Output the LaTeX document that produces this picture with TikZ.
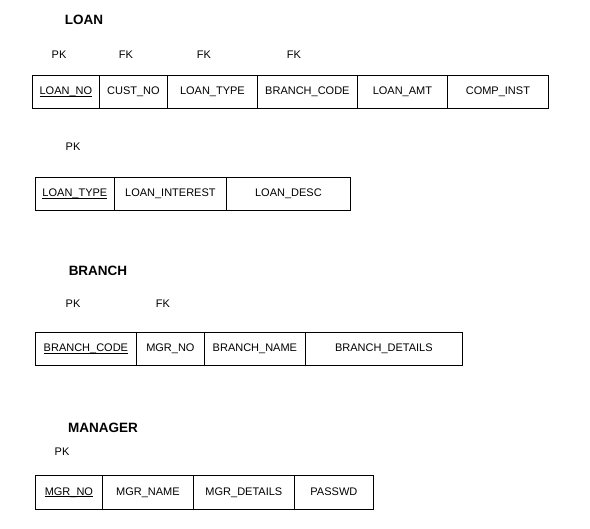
\documentclass[tikz,border=0pt]{standalone}
\usepackage{fontspec}
\setmainfont{Liberation Sans}
\newcommand\pkey[1]{\underline{\smash{#1}}}
\begin{document}
\begin{tikzpicture}[x=1pt,y=-1pt,
  cell/.style={draw, line width=0.8pt, inner sep=0pt, anchor=north west, text height=8pt, text depth=2.5pt, font=\fontsize{11}{13}\selectfont},
  key/.style={inner sep=0pt, font=\fontsize{11}{13}\selectfont},
  title/.style={inner sep=0pt, font=\fontsize{13.5}{15}\selectfont\bfseries}]
\useasboundingbox[fill=white] (0,0) rectangle (590,529);
% LOAN
\node[title] (tloan) at (84,20) {LOAN};
\node[key] (k1a) at (59,55) {PK};
\node[key] (k1b) at (126,55) {FK};
\node[key] (k1c) at (204,55) {FK};
\node[key] (k1d) at (294,55) {FK};
\node[cell, minimum width=67pt, minimum height=33pt] (a1) at (32,75) {\pkey{LOAN\_NO}};
\node[cell, minimum width=68pt, minimum height=33pt] (a2) at (99,75) {CUST\_NO};
\node[cell, minimum width=90pt, minimum height=33pt] (a3) at (167,75) {LOAN\_TYPE};
\node[cell, minimum width=100pt, minimum height=33pt] (a4) at (257,75) {BRANCH\_CODE};
\node[cell, minimum width=90pt, minimum height=33pt] (a5) at (357,75) {LOAN\_AMT};
\node[cell, minimum width=101pt, minimum height=33pt] (a6) at (447,75) {COMP\_INST};
% LOAN TYPE
\node[key] (k2a) at (73,147) {PK};
\node[cell, minimum width=79pt, minimum height=33pt] (b1) at (35,177) {\pkey{LOAN\_TYPE}};
\node[cell, minimum width=112pt, minimum height=33pt] (b2) at (114,177) {LOAN\_INTEREST};
\node[cell, minimum width=124pt, minimum height=33pt] (b3) at (226,177) {LOAN\_DESC};
% BRANCH
\node[title] (tbranch) at (98,271) {BRANCH};
\node[key] (k3a) at (73,304) {PK};
\node[key] (k3b) at (163,304) {FK};
\node[cell, minimum width=101pt, minimum height=33pt] (c1) at (35,332) {\pkey{BRANCH\_CODE}};
\node[cell, minimum width=68pt, minimum height=33pt] (c2) at (136,332) {MGR\_NO};
\node[cell, minimum width=101pt, minimum height=33pt] (c3) at (204,332) {BRANCH\_NAME};
\node[cell, minimum width=157pt, minimum height=33pt] (c4) at (305,332) {BRANCH\_DETAILS};
% MANAGER
\node[title] (tmgr) at (103,428) {MANAGER};
\node[key] (k4a) at (62,452) {PK};
\node[cell, minimum width=67pt, minimum height=34pt] (d1) at (35,475) {\pkey{MGR\_NO}};
\node[cell, minimum width=91pt, minimum height=34pt] (d2) at (102,475) {MGR\_NAME};
\node[cell, minimum width=101pt, minimum height=34pt] (d3) at (193,475) {MGR\_DETAILS};
\node[cell, minimum width=79pt, minimum height=34pt] (d4) at (294,475) {PASSWD};
\end{tikzpicture}
\end{document}
